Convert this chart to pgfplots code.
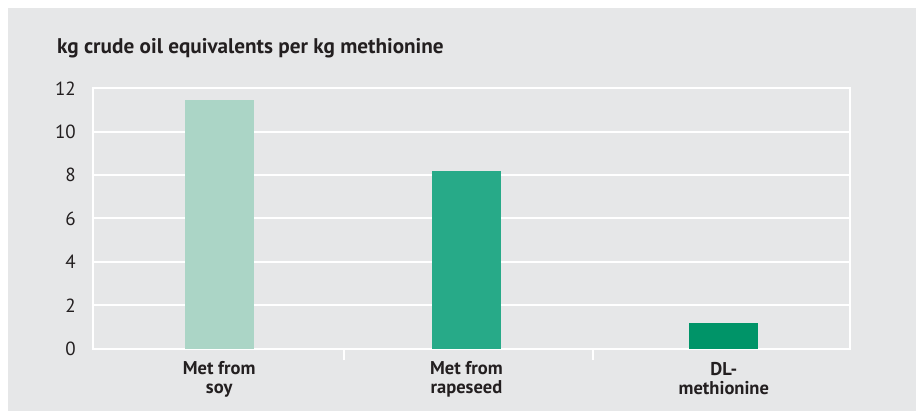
\documentclass[border=0pt]{standalone}
\usepackage{pgfplots}
\pgfplotsset{compat=1.18}
\usepackage{fontspec}
\setmainfont{PT Sans}
\definecolor{bg}{HTML}{E6E7E8}
\definecolor{txt}{HTML}{231F20}
\definecolor{cSoy}{HTML}{ABD5C6}
\definecolor{cRape}{HTML}{27AA88}
\definecolor{cDL}{HTML}{009468}
\begin{document}
\begin{tikzpicture}[x=1pt,y=1pt]
\useasboundingbox (0,0) rectangle (919,411);
\fill[white] (0,0) rectangle (919,411);
\fill[bg] (8,0) rectangle (916,403);
\node[anchor=base west, font=\bfseries\fontsize{21.2}{23}\selectfont, text=txt, inner sep=0pt] at (57,357) {kg crude oil equivalents per kg methionine};
\begin{axis}[
  at={(93pt,62.3pt)}, anchor=south west,
  scale only axis, width=757pt, height=260.4pt,
  xmin=-0.5, xmax=2.5, ymin=0, ymax=12,
  ytick={0,2,...,12},
  ymajorgrids, grid style={white, line width=2pt},
  axis line style={white, line width=2pt},
  ybar, bar width=69pt, bar shift=0pt,
  xtick={0,0.98,2},
  xticklabels={Met from\\soy, Met from\\rapeseed, DL-\\methionine},
  xticklabel style={align=center, font=\bfseries\fontsize{18.5}{19}\selectfont, text=txt, inner sep=0pt, anchor=north, yshift=-13pt},
  yticklabel style={font=\fontsize{19}{19}\selectfont, text=txt, inner sep=0pt, anchor=east, xshift=-17pt},
  /pgf/number format/assume math mode=true,
  major tick length=0pt,
  xtick pos=bottom, ytick pos=left,
  extra x ticks={0.495,1.48},
  extra x tick labels={},
  extra x tick style={major tick length=11pt, tick align=outside, tick style={white, line width=2pt}, grid=none},
]
\addplot[fill=cSoy, draw=none] coordinates {(0,11.45)};
\addplot[fill=cRape, draw=none] coordinates {(0.98,8.17)};
\addplot[fill=cDL, draw=none] coordinates {(2,1.2)};
\end{axis}
\end{tikzpicture}
\end{document}
